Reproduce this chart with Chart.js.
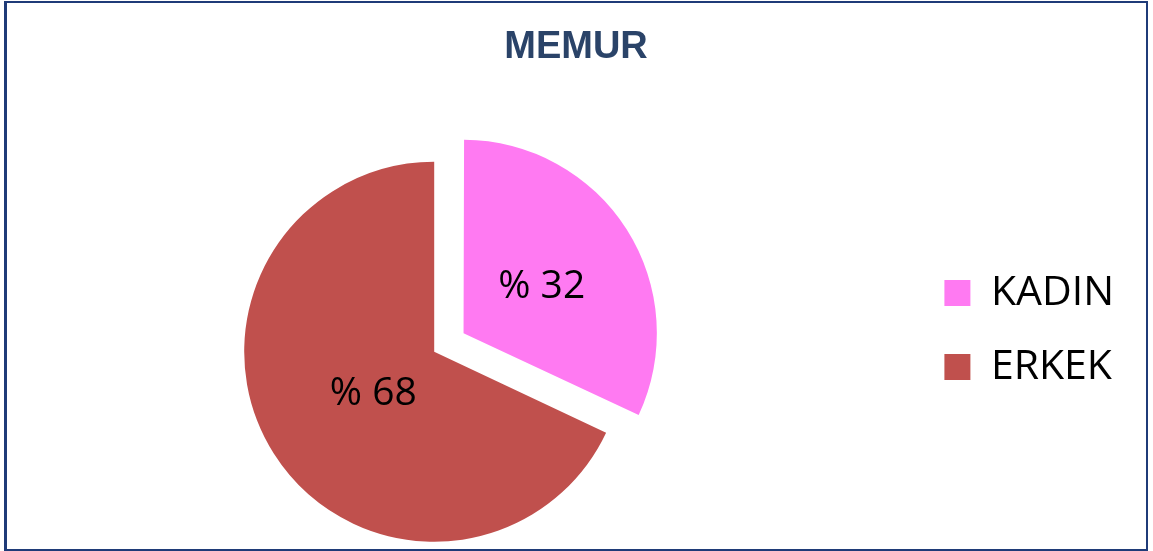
<!DOCTYPE html>
<html>
<head>
<meta charset="utf-8">
<script src="https://cdn.jsdelivr.net/npm/chart.js@4"></script>
<style>
  html, body { margin: 0; padding: 0; background: #fff; overflow: hidden; }
  #page { position: relative; width: 1153px; height: 551px; overflow: hidden; }
  #chart { position: absolute; left: -50px; top: 0; }
  #frame {
    position: absolute; left: 4px; top: 1px; width: 1144px; height: 550px;
    box-sizing: border-box; border: 2px solid #1f3b78; border-left-width: 3px;
    pointer-events: none;
  }
</style>
</head>
<body>
<div id="page">
  <canvas id="chart" width="1245" height="551"></canvas>
  <div id="frame"></div>
</div>
<script>
// data
const titleText = 'MEMUR';
const categories = ['KADIN', 'ERKEK'];
const shares = [32, 68];
const sliceLabels = ['% 32', '% 68'];

// style
const sliceColors = ['#ff7af2', '#c0504d'];
const explode = [139, 0];        // chart.js offset, ~38px shift for the pulled slice
const labelRadius = [0.47, 0.38]; // where the % text sits, as part of the radius

// draws the "% nn" text inside each slice
const sliceText = {
  id: 'sliceText',
  afterDatasetsDraw(chart) {
    const ctx = chart.ctx;
    const meta = chart.getDatasetMeta(0);
    const size = 39;
    ctx.save();
    ctx.font = size + 'px "Open Sans"';
    ctx.fillStyle = '#000';
    ctx.textAlign = 'center';
    ctx.textBaseline = 'middle';
    meta.data.forEach((arc, i) => {
      const p = arc.getProps(['x', 'y', 'startAngle', 'endAngle', 'outerRadius', 'circumference'], true);
      const mid = (p.startAngle + p.endAngle) / 2;
      const off = (arc.options.offset || 0) / 4;
      const shift = off + off * (1 - Math.sin(Math.min(Math.PI, p.circumference)));
      const d = shift + p.outerRadius * labelRadius[i];
      // small nudge so the digits, not the em box, sit on the point
      ctx.fillText(sliceLabels[i], p.x + Math.cos(mid) * d, p.y + Math.sin(mid) * d + size * 0.08);
    });
    ctx.restore();
  }
};

new Chart(document.getElementById('chart'), {
  type: 'pie',
  data: {
    labels: categories,
    datasets: [{
      data: shares,
      backgroundColor: sliceColors,
      borderWidth: 0,
      offset: explode,
      hoverOffset: 0
    }]
  },
  options: {
    responsive: false,
    animation: false,
    radius: 190,
    layout: { padding: { left: 7, right: 0, top: 0, bottom: 87 } },
    plugins: {
      title: {
        display: true,
        text: titleText,
        color: '#2a4368',
        font: { family: '"Liberation Sans", Arial, sans-serif', size: 38, weight: 'bold' },
        padding: { top: 25, bottom: 169 }
      },
      // empty box on the far right, only there to balance the title over the page
      subtitle: {
        display: true,
        text: '',
        position: 'right',
        fullSize: false,
        font: { size: 10 },
        padding: { top: 0, bottom: 59 }
      },
      legend: {
        position: 'right',
        align: 'start',
        fullSize: false,
        labels: {
          boxWidth: 26,
          boxHeight: 26,
          padding: 33,
          color: '#000',
          font: { family: '"Open Sans", sans-serif', size: 41 }
        }
      },
      tooltip: { enabled: false }
    }
  },
  plugins: [sliceText]
});
</script>
</body>
</html>
